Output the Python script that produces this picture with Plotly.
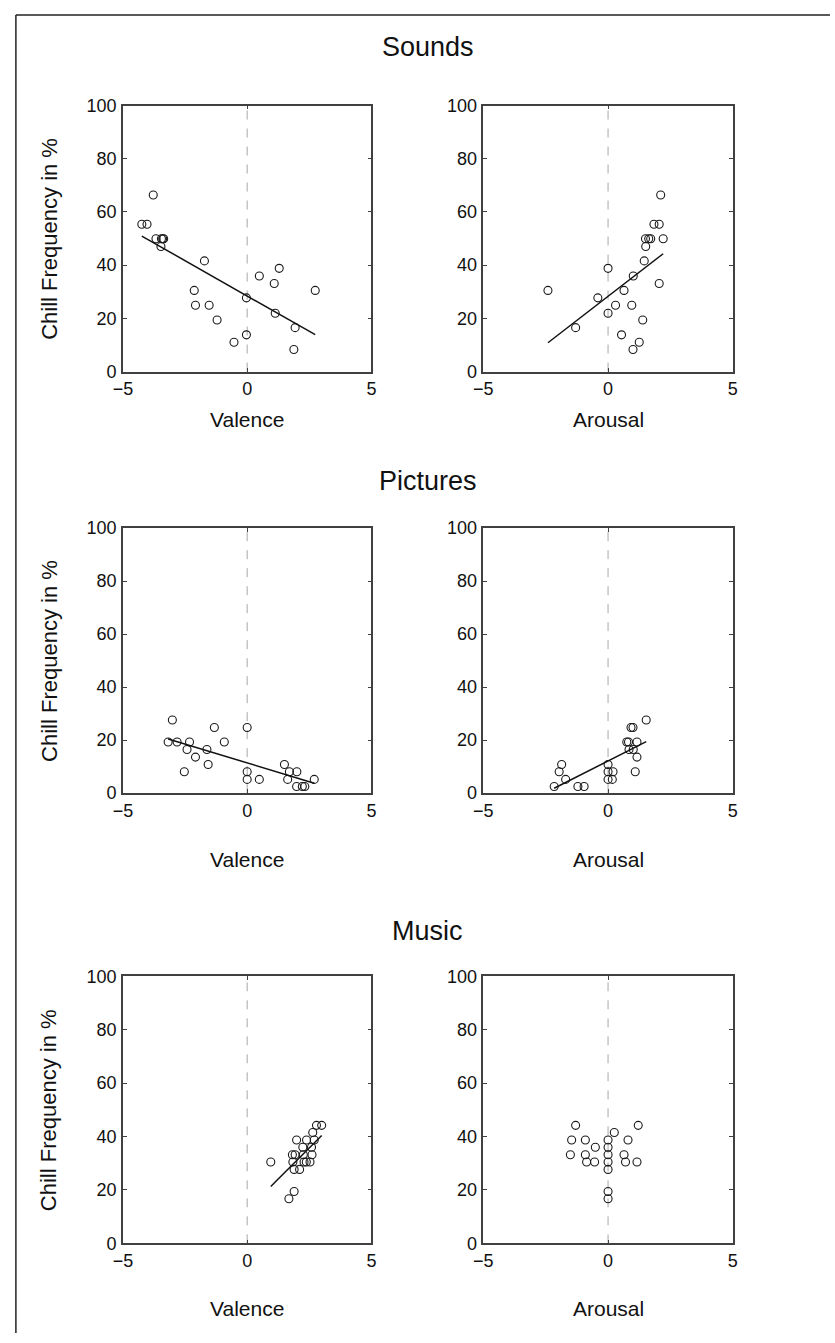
import numpy as np
import plotly.graph_objects as go

# ---------------- data ----------------
sounds_valence_x = [-3.78, -4.24, -4.03, -3.67, -3.45, -3.36, -3.40, -3.47, -1.72, -2.13, -2.08, -1.53,
                    -1.21, -0.53, -0.03, -0.03, 0.49, 1.29, 1.09, 1.13, 1.93, 1.88, 2.74]
sounds_valence_y = [66.4, 55.4, 55.4, 49.9, 49.9, 49.9, 49.9, 47.0, 41.6, 30.5, 24.9, 24.9,
                    19.4, 11.0, 27.7, 13.8, 35.9, 38.8, 33.1, 21.9, 16.5, 8.3, 30.5]

sounds_arousal_x = [2.11, 1.84, 2.05, 1.50, 1.63, 1.71, 2.21, 1.51, 1.45, 0.0, 1.01, 2.05,
                    -2.41, 0.64, -0.41, 0.30, 0.95, 0.0, -1.30, 1.39, 0.54, 1.25, 1.00]
sounds_arousal_y = [66.4, 55.4, 55.4, 49.9, 49.9, 49.9, 49.9, 47.0, 41.6, 38.8, 35.9, 33.1,
                    30.5, 30.5, 27.7, 24.9, 24.9, 21.9, 16.5, 19.4, 13.8, 11.0, 8.3]

pictures_valence_x = [-3.01, -3.18, -2.82, -2.32, -2.42, -1.32, -0.92, -1.62, -2.08, -1.57, -2.53, 0.0,
                      0.0, 0.0, 0.49, 1.50, 1.70, 2.00, 1.63, 2.70, 1.99, 2.22, 2.32]
pictures_valence_y = [27.6, 19.3, 19.3, 19.3, 16.5, 24.8, 19.3, 16.5, 13.6, 10.8, 8.1, 24.8,
                      8.1, 5.2, 5.2, 10.8, 8.1, 8.1, 5.2, 5.2, 2.5, 2.5, 2.5]

pictures_arousal_x = [1.53, 0.92, 1.00, 0.75, 0.82, 1.16, 0.84, 1.01, 1.16, 1.09, -1.86, -1.96,
                      -1.70, -2.16, -1.21, -0.96, 0.0, 0.0, 0.20, 0.0, 0.17]
pictures_arousal_y = [27.6, 24.8, 24.8, 19.3, 19.3, 19.3, 16.5, 16.5, 13.6, 8.1, 10.8, 8.1,
                      5.2, 2.5, 2.5, 2.5, 10.8, 8.1, 8.1, 5.2, 5.2]

music_valence_x = [2.79, 3.00, 2.64, 1.99, 2.39, 2.70, 2.24, 2.59, 1.82, 1.93, 2.61, 2.26,
                   0.95, 1.84, 2.29, 2.38, 2.53, 1.89, 2.11, 1.89, 1.68]
music_valence_y = [44.2, 44.2, 41.5, 38.7, 38.7, 38.7, 36.0, 36.0, 33.2, 33.2, 33.2, 33.2,
                   30.5, 30.5, 30.5, 30.5, 30.5, 27.7, 27.7, 19.4, 16.7]

music_arousal_x = [-1.30, 1.21, 0.25, -1.46, -0.91, 0.0, 0.80, -0.51, 0.0, -1.51, -0.91, 0.0,
                   0.64, -0.86, -0.54, 0.0, 0.70, 1.16, 0.0, 0.0, 0.0]
music_arousal_y = [44.2, 44.2, 41.5, 38.7, 38.7, 38.7, 38.7, 36.0, 36.0, 33.2, 33.2, 33.2,
                   33.2, 30.5, 30.5, 30.5, 30.5, 30.5, 27.7, 19.4, 16.7]

row_titles = ["Sounds", "Pictures", "Music"]
col_titles = ["Valence", "Arousal"]
y_title = "Chill Frequency in %"
x_ticks = [-5, 0, 5]
y_ticks = [0, 20, 40, 60, 80, 100]

panels = [
    (sounds_valence_x, sounds_valence_y, True),
    (sounds_arousal_x, sounds_arousal_y, True),
    (pictures_valence_x, pictures_valence_y, True),
    (pictures_arousal_x, pictures_arousal_y, True),
    (music_valence_x, music_valence_y, True),
    (music_arousal_x, music_arousal_y, False),
]

# ---------------- layout (pixels) ----------------
W, H = 835, 1343
col_px = [(115, 368), (482, 736)]
row_px = [(97, 367), (526, 795), (981, 1252)]
title_y_px = [38, 478, 935]
xlabel_y_px = [416, 862, 1318]

FONT = "Liberation Sans, Arial, sans-serif"
FRAME = "#404040"

fig = go.Figure()

def px_x(v):
    return v / W

def px_y(v):
    return 1 - v / H

for i, (xs, ys, fit) in enumerate(panels):
    r, c = divmod(i, 2)
    n = i + 1
    xa = "x" if n == 1 else f"x{n}"
    ya = "y" if n == 1 else f"y{n}"
    fig.add_trace(go.Scatter(x=[0, 0], y=[0, 100], mode="lines",
                             line=dict(color="#a8a8a8", width=1, dash="dash"),
                             xaxis=xa, yaxis=ya, showlegend=False, hoverinfo="skip"))
    fig.add_trace(go.Scatter(x=xs, y=ys, mode="markers",
                             marker=dict(symbol="circle-open", size=8, color="#1a1a1a",
                                         line=dict(width=1.1, color="#1a1a1a")),
                             xaxis=xa, yaxis=ya, showlegend=False))
    if fit:
        a, b = np.polyfit(xs, ys, 1)
        lx = np.array([min(xs), max(xs)])
        fig.add_trace(go.Scatter(x=lx, y=a * lx + b, mode="lines",
                                 line=dict(color="#111", width=1.5),
                                 xaxis=xa, yaxis=ya, showlegend=False))
    x0, x1 = col_px[c]
    y0, y1 = row_px[r]
    axcommon = dict(showgrid=False, zeroline=False, showline=True, linecolor=FRAME, linewidth=1.6,
                    mirror="ticks", ticks="inside", ticklen=4, tickcolor=FRAME, tickwidth=1.2,
                    tickfont=dict(family=FONT, size=18, color="#111"))
    fig.layout[f"xaxis{'' if n == 1 else n}"] = dict(
        axcommon, domain=[px_x(x0), px_x(x1)], range=[-5, 5], tickvals=x_ticks,
        anchor=ya, fixedrange=True, ticklabelstandoff=0)
    fig.layout[f"yaxis{'' if n == 1 else n}"] = dict(
        axcommon, domain=[px_y(y1), px_y(y0)], range=[0, 100], tickvals=y_ticks,
        anchor=xa, fixedrange=True, ticklabelstandoff=1)

annotations = []
for r in range(3):
    annotations.append(dict(text=row_titles[r], x=0.5 * (px_x(col_px[0][0]) + px_x(col_px[1][1])),
                            y=px_y(title_y_px[r]), xref="paper", yref="paper", showarrow=False,
                            xanchor="center", yanchor="middle",
                            font=dict(family=FONT, size=27, color="#111")))
    for c in range(2):
        annotations.append(dict(text=col_titles[c], x=px_x(0.5 * (col_px[c][0] + col_px[c][1])),
                                y=px_y(xlabel_y_px[r]), xref="paper", yref="paper", showarrow=False,
                                xanchor="center", yanchor="middle",
                                font=dict(family=FONT, size=21, color="#111")))
    annotations.append(dict(text=y_title, x=px_x(40), y=px_y(0.5 * (row_px[r][0] + row_px[r][1])),
                            xref="paper", yref="paper", showarrow=False, textangle=-90,
                            xanchor="center", yanchor="middle",
                            font=dict(family=FONT, size=22, color="#111")))

fig.update_layout(
    width=W, height=H, margin=dict(l=0, r=0, t=0, b=0),
    paper_bgcolor="white", plot_bgcolor="white",
    annotations=annotations,
    shapes=[
        dict(type="line", xref="paper", yref="paper", x0=px_x(6), x1=px_x(6), y0=0, y1=px_y(5),
             line=dict(color="#222", width=1.5)),
        dict(type="line", xref="paper", yref="paper", x0=px_x(6), x1=1, y0=px_y(5), y1=px_y(5),
             line=dict(color="#222", width=1.5)),
    ],
)

fig.write_html(
    "out.html",
    config={"displayModeBar": False},
    post_script="document.body.style.margin='0px';document.body.style.padding='0px';",
)
